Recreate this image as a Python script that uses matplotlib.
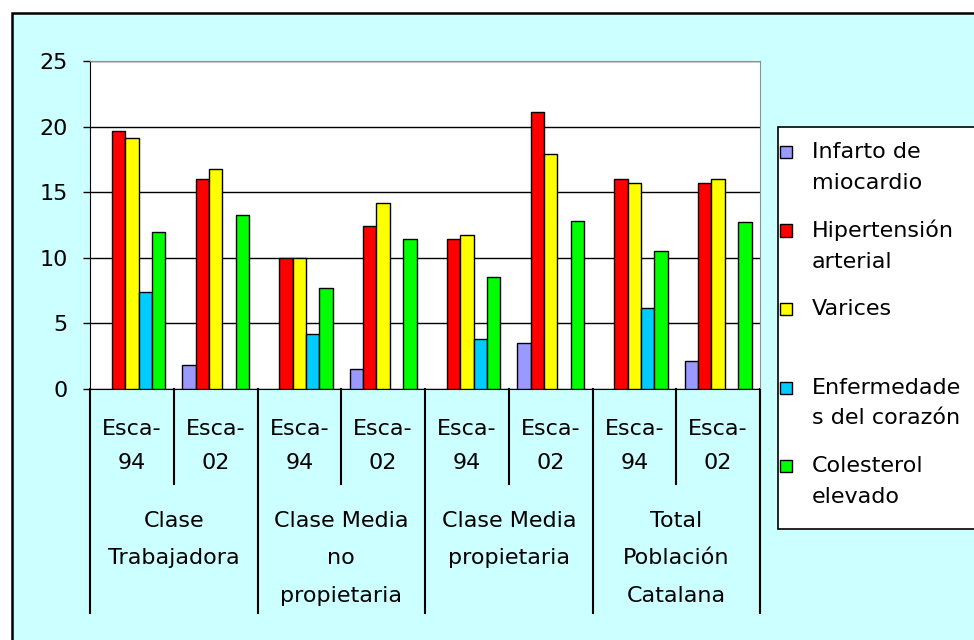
import numpy as np
import matplotlib
matplotlib.use('Agg')
import matplotlib.pyplot as plt
from matplotlib import transforms
from matplotlib.patches import Rectangle

plt.rcParams['font.family'] = ['DejaVu Sans']

# datos
encuestas = ['Esca-\n94', 'Esca-\n02'] * 4
grupos = ['Clase\nTrabajadora', 'Clase Media\nno\npropietaria',
          'Clase Media\npropietaria', 'Total\nPoblación\nCatalana']
series = ['Infarto de\nmiocardio', 'Hipertensión\narterial', 'Varices',
          'Enfermedade\ns del corazón', 'Colesterol\nelevado']
colores = ['#9999FF', '#FF0000', '#FFFF00', '#00CCFF', '#00FF00']

infarto = [np.nan, 1.8, np.nan, 1.5, np.nan, 3.5, np.nan, 2.1]
hipertension = [19.7, 16.0, 10.0, 12.4, 11.4, 21.1, 16.0, 15.7]
varices = [19.1, 16.8, 10.0, 14.2, 11.7, 17.9, 15.7, 16.0]
corazon = [7.4, np.nan, 4.2, np.nan, 3.8, np.nan, 6.2, np.nan]
colesterol = [12.0, 13.3, 7.7, 11.4, 8.5, 12.8, 10.5, 12.7]
valores = [infarto, hipertension, varices, corazon, colesterol]

W, H = 974, 640
fig = plt.figure(figsize=(W / 100, H / 100), dpi=100, facecolor='white')

# fondo cian con marco
fig.patches.append(Rectangle((12 / W, -0.1), 1.2, (H - 13) / H + 0.1,
                             transform=fig.transFigure, facecolor='#CCFFFF',
                             edgecolor='black', lw=1.8, zorder=-5))

ax = fig.add_axes([90 / W, (H - 389) / H, (760 - 90) / W, (389 - 61) / H])
ax.set_facecolor('white')
ax.set_zorder(1)

x = np.arange(len(encuestas))
ancho = 0.16
for i, (vals, col) in enumerate(zip(valores, colores)):
    ax.bar(x + (i - 2) * ancho, vals, ancho, color=col, edgecolor='black',
           linewidth=1, zorder=3)

ax.set_xlim(-0.5, 7.5)
ax.set_ylim(0, 25)
ax.set_yticks(range(0, 26, 5))
ax.yaxis.grid(True, color='black', lw=1, zorder=1)
ax.set_xticks([])
ax.tick_params(axis='y', length=5, width=1, pad=11, labelsize=16)
ax.spines['left'].set_color('black')
ax.spines['bottom'].set_color('black')
for s in ['top', 'right']:
    ax.spines[s].set_color('#909090')

# eje de categorías de dos niveles
trans = transforms.blended_transform_factory(ax.transData, fig.transFigure)
y_eje = (H - 389) / H
for xs in [0.5, 2.5, 4.5, 6.5]:
    ax.plot([xs, xs], [y_eje, (H - 484) / H], color='black', lw=1.5,
            transform=trans, clip_on=False)
for xs in [-0.5, 1.5, 3.5, 5.5, 7.5]:
    ax.plot([xs, xs], [y_eje, (H - 613) / H], color='black', lw=1.5,
            transform=trans, clip_on=False)
for xi, lab in zip(x, encuestas):
    ax.text(xi, (H - 446) / H, lab, transform=trans, ha='center', va='center',
            fontsize=16, linespacing=1.93)
for k, lab in enumerate(grupos):
    ax.text(2 * k + 0.5, (H - 511) / H, lab, transform=trans, ha='center',
            va='top', fontsize=16, linespacing=2.09)

# leyenda
fig.patches.append(Rectangle((778 / W, (H - 529) / H), 0.5, (529 - 127) / H,
                             transform=fig.transFigure, facecolor='white',
                             edgecolor='black', lw=1.2, zorder=2))
for i, (nombre, col) in enumerate(zip(series, colores)):
    yc = 152 + i * 78.5
    fig.patches.append(Rectangle((780 / W, (H - yc - 6) / H), 12 / W, 12 / H,
                                 transform=fig.transFigure, facecolor=col,
                                 edgecolor='black', lw=1, zorder=3))
    for j, linea in enumerate(nombre.split('\n')):
        fig.text(812 / W, (H - yc - 31 * j) / H, linea, ha='left',
                 va='center', fontsize=16, zorder=4)

fig.savefig('out.png', dpi=100, facecolor='white')
